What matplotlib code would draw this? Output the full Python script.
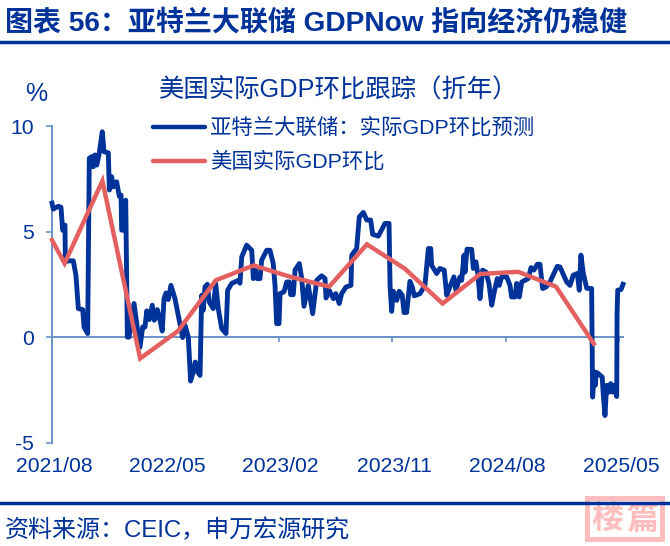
import matplotlib
matplotlib.use("Agg")
import matplotlib.pyplot as plt
from matplotlib.patches import Rectangle
from matplotlib.lines import Line2D

W, H = 670, 546
NAVY = "#003399"
RED = "#E46060"
AXC = "#6A93C8"
PINK = "#FFBDBD"
FONT = ["Liberation Sans", "Noto Sans CJK SC", "DejaVu Sans"]
plt.rcParams["font.family"] = FONT

# months elapsed since 2021/08
nowcast_months = [
 0,.10,.5,.71,.85,1.03,1.06,1.29,1.69,1.90,2.09,2.44,2.54,2.83,2.96,3.15,3.28,3.41,3.55,3.73,3.99,4.13,4.47,4.55,4.74,4.87,5.13,5.34,5.48,5.53,5.71,5.85,5.98,6.11,
 6.51,6.72,6.98,7.2,7.38,7.52,7.72,7.96,8.12,8.36,8.57,8.75,8.89,9.05,9.23,9.44,9.76,10.1,10.37,10.56,10.82,11.0,11.17,11.37,11.56,11.75,11.88,12.0,12.14,12.33,12.48,12.8,12.99,13.2,13.47,13.81,13.94,14.26,14.79,14.92,
 15.06,15.45,15.85,15.98,16.11,16.29,16.51,16.64,17.04,17.3,17.56,17.7,17.83,18.02,18.1,18.41,18.63,18.83,18.94,19.15,19.29,19.63,19.82,20,20.34,20.69,21.01,21.4,21.67,21.75,22.0,22.33,22.52,22.8,22.99,23.33,23.73,
 23.79,24.18,24.39,24.71,24.98,25.29,25.45,25.9,26.43,26.75,26.83,26.96,27.09,27.36,27.56,27.8,27.94,28.15,28.41,28.6,28.75,29.21,29.6,29.87,30.06,30.13,30.53,30.79,31.13,31.33,31.53,31.9,32.06,32.38,32.52,32.7,32.78,32.94,
 33.31,33.44,33.65,33.79,33.97,34.18,34.44,34.68,34.9,35.1,35.34,35.5,35.69,36.09,36.35,36.48,36.75,36.88,37.09,37.28,37.8,38.02,38.25,38.52,38.73,38.94,39.21,39.52,40.1,40.32,40.85,41.11,41.37,41.69,41.85,41.98,42.17,42.44,42.83,
 42.91,43.04,43.12,43.21,43.36,43.67,43.75,43.89,44.02,44.21,44.34,44.5,44.63,44.82,44.85,44.9,45.16,45.32]
nowcast_values = [
 6.35,6.07,6.2,6.16,5.07,5.31,3.57,3.62,3.62,2.94,1.36,1.31,.49,.18,8.47,8.55,8.07,8.63,8.15,8.63,9.73,8.78,8.73,6.97,7.6,7.12,7.36,6.68,6.73,5.07,5.07,6.49,.01,.01,
 1.6,.66,-.47,.49,.49,1.25,.84,1.52,.81,1.31,.81,.3,1.83,2.1,1.79,2.46,1.83,.81,-.01,.57,.01,-2.07,-1.72,-1.17,-1.64,-1.8,1.99,1.28,2.38,2.51,1.67,1.36,2.55,1.36,.41,.18,2.23,2.55,2.7,2.56,
 3.81,4.36,4.12,2.78,3.26,2.78,2.78,3.65,4.12,4.12,3.49,2.46,.65,.65,2.07,2.15,2.62,2.62,2.02,2.02,3.18,3.49,2.78,1.47,2.46,1.12,2.7,2.91,2.78,1.86,2.23,1.83,2.07,1.6,2.07,2.38,2.46,
 3.89,4.2,5.7,5.91,5.55,5.55,4.87,4.79,5.39,5.39,2.46,1.23,2.18,1.75,2.18,1.99,1.17,1.18,2.65,2.38,1.96,2.07,2.46,4.2,4.2,3.41,3.02,3.26,3.18,1.99,2.31,2.86,2.23,2.86,2.7,3.89,3.09,4.17,
 4.16,3.26,3.57,3.02,1.83,3.18,3.09,2.55,1.52,2.15,2.78,2.46,2.86,2.86,2.46,1.91,1.91,2.55,1.91,2.62,2.78,3.3,3.18,3.46,3.46,2.31,2.38,2.62,3.36,3.33,2.62,2.46,2.94,3.02,2.23,3.89,3.03,2.32,2.31,
 -2.83,-1.64,-2.27,-1.66,-1.72,-1.88,-2.67,-3.7,-2.27,-2.59,-2.19,-2.59,-2.27,-2.8,1.14,2.23,2.26,2.51]
gdp_months = [0, 1, 4, 7, 10, 13, 16, 19, 22, 25, 28, 31, 34, 37, 40, 43]
gdp_values = [4.6, 3.5, 7.4, -1.0, 0.3, 2.7, 3.4, 2.85, 2.4, 4.4, 3.25, 1.6, 3.0, 3.1, 2.4, -0.3]
tick_months = [0, 9, 18, 27, 36, 45]
tick_labels = ["2021/08", "2022/05", "2023/02", "2023/11", "2024/08", "2025/05"]
y_ticks = [-5, 0, 5, 10]
y_tick_labels = ["-5", "0", "5", "10"]
series_names = ["亚特兰大联储：实际GDP环比预测", "美国实际GDP环比"]

fig = plt.figure(figsize=(W / 100, H / 100), dpi=100)
L, R, T, B = 52, 623, 126, 443
ax = fig.add_axes([L / W, 1 - B / H, (R - L) / W, (B - T) / H])
ax.set_xlim(0, 45.32)
ax.set_ylim(-5, 10)
ax.patch.set_alpha(0)
ax.plot(nowcast_months, nowcast_values, color=NAVY, lw=3.5, solid_joinstyle="round", clip_on=False, zorder=3)
ax.plot(gdp_months, gdp_values, color=RED, lw=3.2, solid_joinstyle="miter", clip_on=False, zorder=4)

for s in ("top", "right"):
    ax.spines[s].set_visible(False)
ax.spines["bottom"].set_position(("data", 0))
for s in ("left", "bottom"):
    ax.spines[s].set_color(AXC)
    ax.spines[s].set_linewidth(1.4)
ax.set_yticks(y_ticks)
ax.set_yticklabels(y_tick_labels)
ax.set_xticks(tick_months)
ax.set_xticklabels(tick_labels)
ax.tick_params(axis="y", length=4, width=1.2, color=AXC, labelcolor=NAVY, labelsize=15.2, pad=9)
ax.tick_params(axis="x", length=3.5, width=1.2, color=AXC, labelcolor=NAVY, labelsize=15.2, pad=83)
for lab in ax.get_xticklabels():
    lab.set_x(lab.get_position()[0])
    lab.set_transform(lab.get_transform() + matplotlib.transforms.ScaledTranslation(2 / 100, 0, fig.dpi_scale_trans))

def px_text(x, y, s, **kw):
    kw.setdefault("color", NAVY)
    kw.setdefault("va", "center")
    fig.text(x / W, 1 - y / H, s, **kw)

def rule(y, lw, z=1):
    fig.add_artist(Line2D([0, 1], [1 - y / H] * 2, color=NAVY, lw=lw, transform=fig.transFigure, zorder=z))

px_text(5, 24, "图表 56：亚特兰大联储 GDPNow 指向经济仍稳健", fontsize=20.2, fontweight="bold")
rule(42, 2.5)
px_text(159, 90, "美国实际GDP环比跟踪（折年）", fontsize=18.3)
px_text(36, 94, "%", fontsize=18, ha="center")
px_text(5, 530, "资料来源：CEIC，申万宏源研究", fontsize=17.3)

# legend
for y, name, col in zip((126.7, 160.7), series_names, (NAVY, RED)):
    fig.add_artist(Line2D([153 / W, 205 / W], [1 - y / H] * 2, color=col, lw=3.2,
                          solid_capstyle="round", transform=fig.transFigure, zorder=5))
    px_text(210, y + 1, name, fontsize=15.4)

# stamp: pink frame with white interior, the lower rule passes over it
fig.add_artist(Rectangle((587 / W, 1 - 539 / H), 75 / W, 41 / H, transform=fig.transFigure,
                         facecolor="white", edgecolor=PINK, lw=3.6, zorder=6))
px_text(607, 520, "楼", fontsize=23, color=PINK, ha="center", fontweight="bold", zorder=7)
px_text(642, 520, "篇", fontsize=23, color=PINK, ha="center", fontweight="bold", zorder=7)
rule(503, 2.5, z=8)

fig.savefig("out.png", dpi=100)
